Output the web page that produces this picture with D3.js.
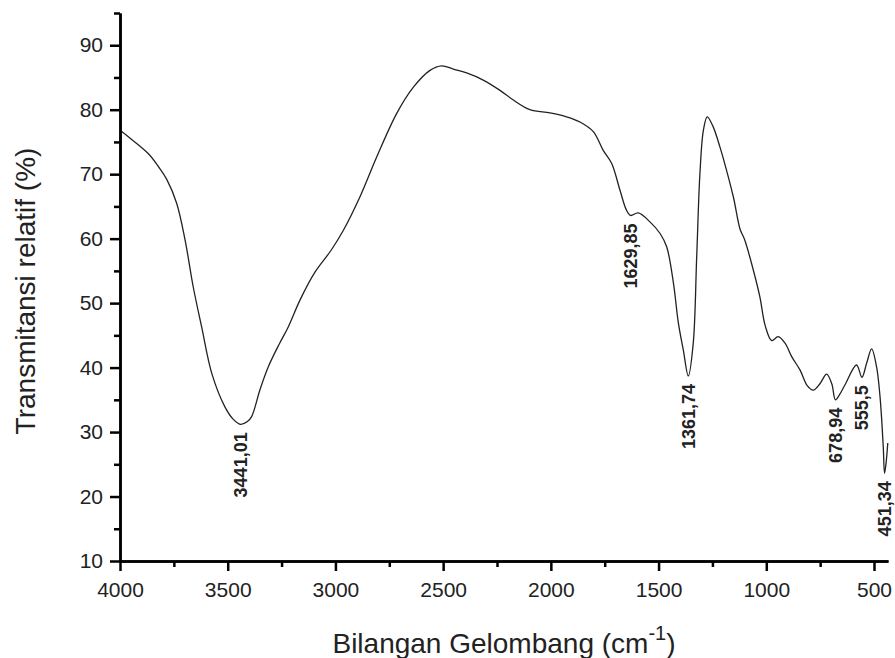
<!DOCTYPE html>
<html>
<head>
<meta charset="utf-8">
<script src="https://cdn.jsdelivr.net/npm/d3@7"></script>
<style>
  body { margin: 0; background: #fff; }
  text { font-family: "Liberation Sans", Arial, sans-serif; }
</style>
</head>
<body>
<div id="chart"></div>
<script>
// spectrum (wavenumber cm-1, transmittance %)
var wavenumber = [4000, 3950, 3869, 3820, 3783, 3737, 3698, 3660, 3621, 3574, 3513, 3475, 3441, 3410, 3389, 3350, 3312, 3260, 3219, 3164, 3095, 3020, 2963, 2886, 2808, 2716, 2638, 2561, 2507, 2453, 2391, 2314, 2236, 2174, 2097, 2004, 1927, 1865, 1803, 1757, 1718, 1679, 1650, 1630, 1594, 1540, 1493, 1462, 1431, 1408, 1385, 1362, 1339, 1323, 1308, 1292, 1274, 1246, 1215, 1200, 1153, 1122, 1100, 1060, 1030, 1005, 975, 945, 913, 882, 843, 810, 782, 751, 720, 696, 679, 660, 635, 581, 556, 534, 511, 488, 472, 457, 451, 443, 436];
var transmittance = [76.8, 75.5, 73.2, 71.1, 69.2, 65.5, 59.8, 52.5, 46.3, 39.1, 33.9, 32.0, 31.2, 31.6, 32.4, 36.6, 40.1, 43.7, 46.3, 50.5, 54.8, 58.2, 61.3, 66.5, 72.7, 79.4, 83.5, 86.1, 86.8, 86.3, 85.7, 84.6, 83.0, 81.5, 80.0, 79.5, 78.9, 78.1, 76.6, 73.7, 71.7, 67.5, 64.5, 63.6, 64.0, 62.6, 60.8, 58.7, 53.1, 46.9, 42.7, 38.7, 43.8, 57.2, 70.1, 76.8, 78.9, 77.3, 74.2, 72.5, 66.5, 61.5, 59.8, 55.1, 51.0, 46.5, 44.2, 44.8, 43.8, 41.7, 39.6, 37.2, 36.5, 37.5, 39.0, 37.5, 35.0, 35.8, 37.3, 40.4, 38.5, 40.7, 42.9, 40.1, 35.5, 27.7, 23.6, 25.5, 28.3];

var peakWn = [3441.01, 1629.85, 1361.74, 678.94, 555.5, 451.34];
var peakT = [31.2, 63.6, 38.7, 35.0, 38.5, 23.6];
var peakLabels = ["3441,01", "1629,85", "1361,74", "678,94", "555,5", "451,34"];

var xTicks = [4000, 3500, 3000, 2500, 2000, 1500, 1000, 500];
var xMinor = [3750, 3250, 2750, 2250, 1750, 1250, 750];
var yTicks = [10, 20, 30, 40, 50, 60, 70, 80, 90];
var yMinor = [15, 25, 35, 45, 55, 65, 75, 85, 95];

var width = 895, height = 658;
var plotL = 120, plotR = 888, plotT = 13, plotB = 561;

var svg = d3.select("#chart").append("svg")
  .attr("width", width)
  .attr("height", height);

var x = d3.scaleLinear().domain([4000, 435]).range([plotL, plotR]);
var y = d3.scaleLinear().domain([10, 95]).range([plotB, plotT]);

var data = wavenumber.map(function (w, i) { return {w: w, t: transmittance[i]}; });

// curve
var line = d3.line()
  .x(function (d) { return x(d.w); })
  .y(function (d) { return y(d.t); })
  .curve(d3.curveCatmullRom.alpha(0.5));

svg.append("path")
  .datum(data)
  .attr("fill", "none")
  .attr("stroke", "#222")
  .attr("stroke-width", 1.3)
  .attr("d", line);

// axes, major then minor ticks
var gx = svg.append("g").attr("transform", "translate(0," + plotB + ")");
gx.call(d3.axisBottom(x).tickValues(xTicks).tickFormat(d3.format("d")).tickSize(10).tickSizeOuter(0).tickPadding(11));
var gxm = svg.append("g").attr("transform", "translate(0," + plotB + ")");
gxm.call(d3.axisBottom(x).tickValues(xMinor).tickFormat("").tickSize(6).tickSizeOuter(0));

var gy = svg.append("g").attr("transform", "translate(" + plotL + ",0)");
gy.call(d3.axisLeft(y).tickValues(yTicks).tickSize(10).tickSizeOuter(0).tickPadding(7));
var gym = svg.append("g").attr("transform", "translate(" + plotL + ",0)");
gym.call(d3.axisLeft(y).tickValues(yMinor).tickFormat("").tickSize(6).tickSizeOuter(0));

svg.selectAll(".domain").attr("stroke", "#000").attr("stroke-width", 2.5);
svg.selectAll(".tick line").attr("stroke", "#000").attr("stroke-width", 2.5);
svg.selectAll(".tick text")
  .style("font-family", "'Liberation Sans', Arial, sans-serif")
  .style("font-size", "21px")
  .attr("fill", "#222");

// peak labels
svg.selectAll(".peak")
  .data(peakWn)
  .enter().append("text")
  .attr("class", "peak")
  .attr("transform", function (d, i) {
    return "translate(" + x(d) + "," + (y(peakT[i]) + 8) + ") rotate(-90)";
  })
  .attr("dy", "0.35em")
  .attr("text-anchor", "end")
  .style("font-family", "'Liberation Sans', Arial, sans-serif")
  .style("font-size", "18px")
  .style("font-weight", "bold")
  .attr("fill", "#222")
  .text(function (d, i) { return peakLabels[i]; });

// axis titles
svg.append("text")
  .attr("transform", "translate(35," + ((plotT + plotB) / 2 + 4) + ") rotate(-90)")
  .attr("text-anchor", "middle")
  .style("font-size", "28px")
  .attr("fill", "#222")
  .text("Transmitansi relatif (%)");

var xt = svg.append("text")
  .attr("x", (plotL + plotR) / 2)
  .attr("y", 653)
  .attr("text-anchor", "middle")
  .style("font-size", "28px")
  .attr("fill", "#222");
xt.append("tspan").text("Bilangan Gelombang (cm");
xt.append("tspan").attr("dy", -13).style("font-size", "20px").text("-1");
xt.append("tspan").attr("dy", 13).text(")");
</script>
</body>
</html>
